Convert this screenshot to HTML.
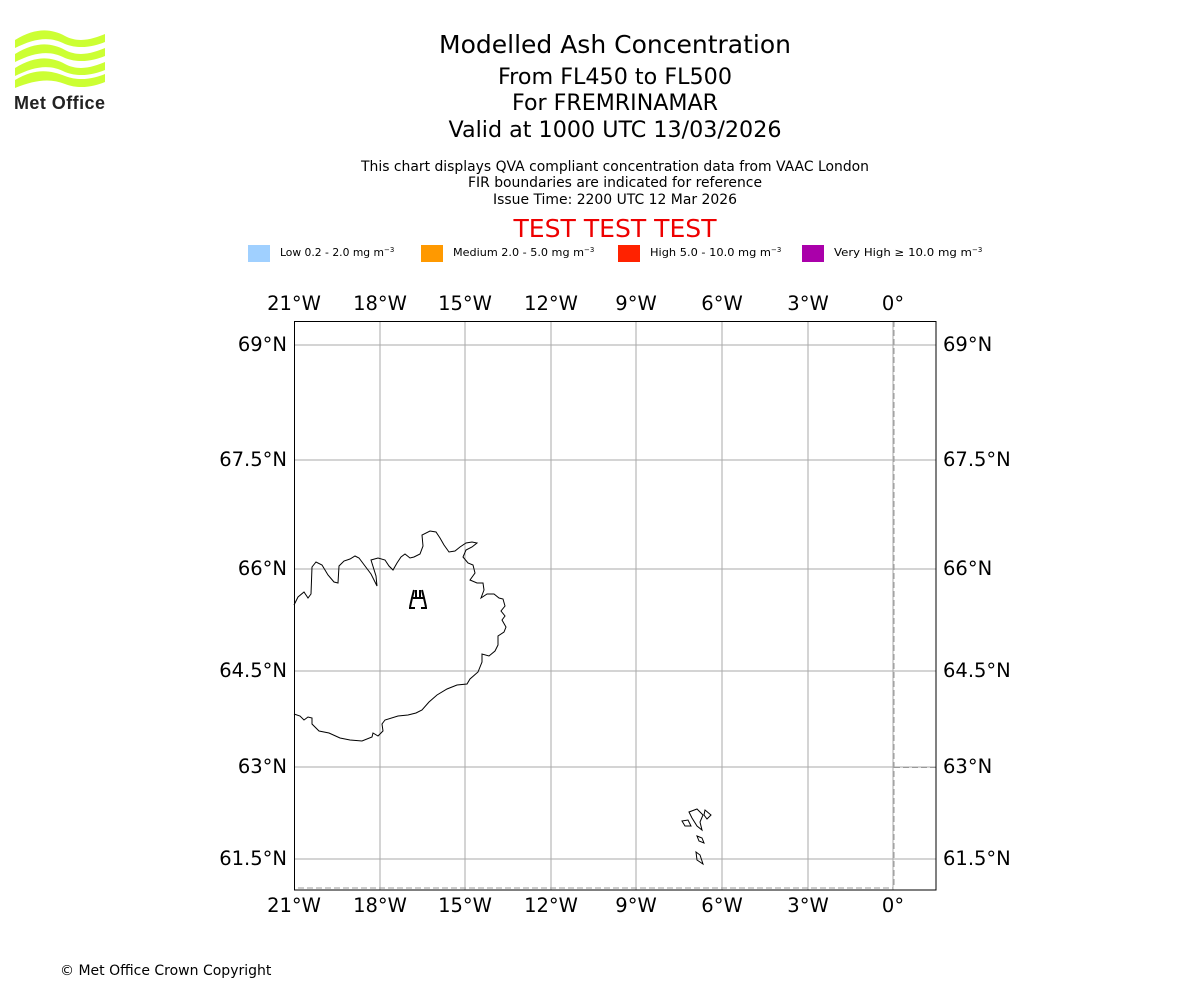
<!DOCTYPE html>
<html><head><meta charset="utf-8"><style>
body{margin:0;background:#fff;width:1200px;height:1000px;overflow:hidden;font-family:"DejaVu Sans","Liberation Sans",sans-serif}
</style></head><body>
<svg width="1200" height="1000" xmlns="http://www.w3.org/2000/svg" font-family="DejaVu Sans, Liberation Sans, sans-serif">
<g fill="#ccff33">
<path d="M15,40 C35,28 50,28 65,36 C80,44 95,38 105,34 L105,42 C95,46 80,50 65,44 C50,36 35,38 15,48Z"/>
<path d="M15,54 C35,42 50,42 65,50 C80,58 95,52 105,48 L105,56 C95,60 80,64 65,58 C50,50 35,52 15,62Z"/>
<path d="M15,68 C35,56 50,56 65,64 C80,72 95,66 105,62 L105,70 C95,74 80,78 65,72 C50,64 35,66 15,76Z"/>
<path d="M15,80 C35,68 50,70 65,76 C80,82 95,78 105,74 L105,82 C95,86 80,90 65,84 C50,78 35,80 15,88Z"/>
</g>
<text x="14" y="109" font-size="18" font-weight="bold" fill="#222" font-family="Liberation Sans, sans-serif" textLength="91">Met Office</text>
<g text-anchor="middle" fill="#000">
<text x="615" y="53" font-size="25" textLength="352" lengthAdjust="spacingAndGlyphs">Modelled Ash Concentration</text>
<text x="615" y="84" font-size="22" textLength="234" lengthAdjust="spacingAndGlyphs">From FL450 to FL500</text>
<text x="615" y="110" font-size="22" textLength="206" lengthAdjust="spacingAndGlyphs">For FREMRINAMAR</text>
<text x="615" y="137" font-size="22" textLength="333" lengthAdjust="spacingAndGlyphs">Valid at 1000 UTC 13/03/2026</text>
<text x="615" y="171" font-size="14" textLength="508" lengthAdjust="spacingAndGlyphs">This chart displays QVA compliant concentration data from VAAC London</text>
<text x="615" y="187" font-size="14" textLength="294" lengthAdjust="spacingAndGlyphs">FIR boundaries are indicated for reference</text>
<text x="615" y="204" font-size="14" textLength="244" lengthAdjust="spacingAndGlyphs">Issue Time: 2200 UTC 12 Mar 2026</text>
<text x="615" y="237" font-size="25" fill="#e00" textLength="203" lengthAdjust="spacingAndGlyphs">TEST TEST TEST</text>
</g>
<g font-size="10.5">
<rect x="248" y="245" width="22" height="17" fill="#a0d0ff"/><text x="280" y="256"><tspan textLength="104" lengthAdjust="spacingAndGlyphs">Low 0.2 - 2.0 mg m</tspan><tspan dy="-4" font-size="7">−3</tspan></text>
<rect x="421" y="245" width="22" height="17" fill="#ff9900"/><text x="453" y="256"><tspan textLength="131" lengthAdjust="spacingAndGlyphs">Medium 2.0 - 5.0 mg m</tspan><tspan dy="-4" font-size="7">−3</tspan></text>
<rect x="618" y="245" width="22" height="17" fill="#ff2200"/><text x="650" y="256"><tspan textLength="121" lengthAdjust="spacingAndGlyphs">High 5.0 - 10.0 mg m</tspan><tspan dy="-4" font-size="7">−3</tspan></text>
<rect x="802" y="245" width="22" height="17" fill="#aa00aa"/><text x="834" y="256"><tspan textLength="138" lengthAdjust="spacingAndGlyphs">Very High  ≥  10.0 mg m</tspan><tspan dy="-4" font-size="7">−3</tspan></text>
</g>
<g stroke="#aaa" stroke-width="1">
<line x1="380" y1="321" x2="380" y2="890"/><line x1="465" y1="321" x2="465" y2="890"/>
<line x1="551" y1="321" x2="551" y2="890"/><line x1="636" y1="321" x2="636" y2="890"/>
<line x1="722" y1="321" x2="722" y2="890"/><line x1="808" y1="321" x2="808" y2="890"/>
<line x1="893" y1="321" x2="893" y2="890"/>
<line x1="294" y1="345" x2="936" y2="345"/><line x1="294" y1="460" x2="936" y2="460"/>
<line x1="294" y1="569" x2="936" y2="569"/><line x1="294" y1="671" x2="936" y2="671"/>
<line x1="294" y1="767" x2="936" y2="767"/><line x1="294" y1="859" x2="936" y2="859"/>
</g>
<g stroke="#999" stroke-dasharray="6,3" fill="none">
<path d="M298,888 L893,888 M894,321 L894,888 M894,767.5 L936,767.5"/>
</g>
<path fill="none" stroke="#000" stroke-width="1" d="M294,605 L298,597 304,592 308,598 311,594 312,567 316,562 322,565 328,575 334,582 338,583 339,566 344,561 350,559 355,556 359,558 365,566 371,574 375,582 377,586 376,576 371,560 378,558 385,560 389,566 393,570 397,563 401,557 405,554 410,558 414,557 420,554 423,546 422,535 430,531 436,532 440,538 444,545 449,552 455,551 460,547 466,543 472,542 477,543 472,547 466,550 463,557 468,563 473,565 475,573 470,580 477,583 483,583 484,590 481,598 487,594 494,594 499,598 503,599 505,606 501,611 505,616 502,620 506,627 504,632 498,636 498,645 495,651 489,656 482,654 482,662 478,672 470,679 467,684 457,685 447,689 437,695 429,702 422,710 416,713 408,715 398,716 385,720 382,724 383,731 378,736 373,733 372,737 362,741 350,740 340,738 329,733 319,731 312,724 312,718 308,717 304,720 300,716 294,714"/>
<g fill="none" stroke="#000" stroke-width="1">
<path d="M689,812 L697,809 703,815 700,822 702,830 697,826 692,818Z"/>
<path d="M705,810 L711,815 707,819 704,815Z"/>
<path d="M682,821 L688,820 691,826 685,826Z"/>
<path d="M697,836 L702,838 704,843 699,841Z"/>
<path d="M696,852 L700,855 703,864 697,860Z"/>
</g>
<g stroke="#000" stroke-width="2" fill="none">
<path d="M414,590 L412,598 L410,607 M422,590 L424,598 L426,607 M413,598 H424 M416,590 V598 M420,590 V598 M409,608 H415 M421,608 H427"/>
</g>
<rect x="294.5" y="321.5" width="641.5" height="568.5" fill="none" stroke="#000" stroke-width="1"/>
<g font-size="19.5" fill="#000" text-anchor="middle">
<text x="294" y="310">21°W</text><text x="380" y="310">18°W</text><text x="465" y="310">15°W</text><text x="551" y="310">12°W</text><text x="636" y="310">9°W</text><text x="722" y="310">6°W</text><text x="808" y="310">3°W</text><text x="893" y="310">0°</text>
<text x="294" y="912">21°W</text><text x="380" y="912">18°W</text><text x="465" y="912">15°W</text><text x="551" y="912">12°W</text><text x="636" y="912">9°W</text><text x="722" y="912">6°W</text><text x="808" y="912">3°W</text><text x="893" y="912">0°</text>
</g>
<g font-size="19.5" fill="#000" text-anchor="end">
<text x="287" y="351">69°N</text><text x="287" y="466">67.5°N</text><text x="287" y="575">66°N</text><text x="287" y="677">64.5°N</text><text x="287" y="773">63°N</text><text x="287" y="865">61.5°N</text>
</g>
<g font-size="19.5" fill="#000">
<text x="943" y="351">69°N</text><text x="943" y="466">67.5°N</text><text x="943" y="575">66°N</text><text x="943" y="677">64.5°N</text><text x="943" y="773">63°N</text><text x="943" y="865">61.5°N</text>
</g>
<text x="60" y="975" font-size="14" fill="#000">© Met Office Crown Copyright</text>
</svg>
</body></html>
